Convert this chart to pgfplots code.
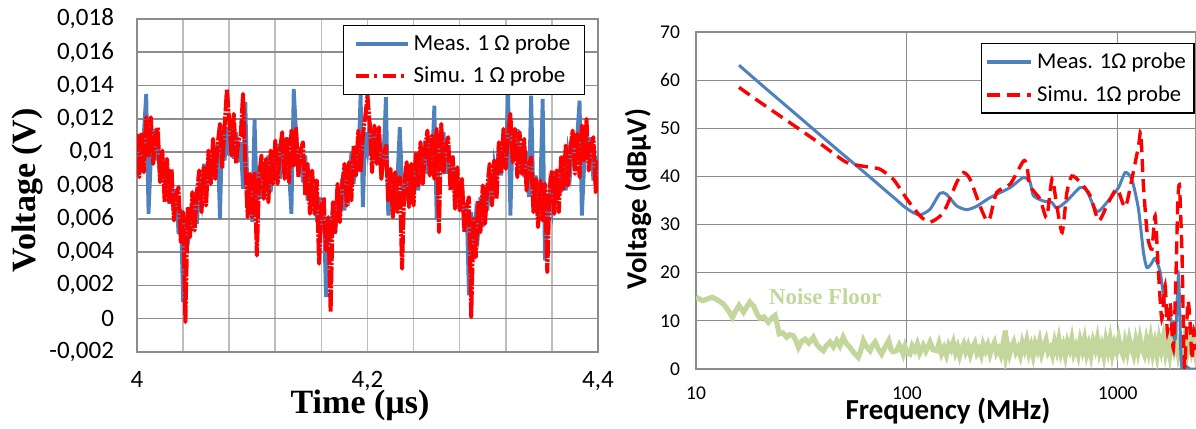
\documentclass[border=0pt]{standalone}
\usepackage{pgfplots}
\pgfplotsset{compat=1.18}
\usepackage{pgfplotstable}
\usepackage{fontspec}
\setmainfont{Carlito}
\newfontfamily\tnr{Liberation Serif}
\definecolor{exblue}{HTML}{4F81BD}
\definecolor{exred}{HTML}{FF0000}
\definecolor{nfgreen}{HTML}{C3D69B}
\definecolor{gridA}{HTML}{8C8C8C}
\definecolor{gridB}{HTML}{BDBDBD}

\pgfplotstableread{
t meas simu
4.000 0.0087 0.0111
4.002 0.0109 0.0085
4.004 0.0090 0.0112
4.006 0.0112 0.0088
4.008 0.0135 0.0121
4.010 0.0063 0.0098
4.012 0.0096 0.0121
4.014 0.0114 0.0093
4.016 0.0095 0.0110
4.018 0.0110 0.0115
4.020 0.0083 0.0082
4.022 0.0098 0.0101
4.024 0.0081 0.0070
4.026 0.0095 0.0096
4.028 0.0069 0.0070
4.030 0.0084 0.0090
4.032 0.0063 0.0059
4.034 0.0078 0.0074
4.036 0.0051 0.0079
4.038 0.0066 0.0046
4.040 0.0010 0.0064
4.042 0.0062 -0.0002
4.044 0.0044 0.0067
4.046 0.0067 0.0049
4.048 0.0053 0.0076
4.050 0.0076 0.0053
4.052 0.0057 0.0076
4.054 0.0080 0.0089
4.056 0.0071 0.0064
4.058 0.0093 0.0091
4.060 0.0075 0.0068
4.062 0.0097 0.0101
4.064 0.0082 0.0081
4.066 0.0104 0.0108
4.068 0.0084 0.0084
4.070 0.0105 0.0105
4.072 0.0060 0.0117
4.074 0.0116 0.0091
4.076 0.0095 0.0115
4.078 0.0115 0.0138
4.080 0.0098 0.0119
4.082 0.0118 0.0098
4.084 0.0096 0.0123
4.086 0.0112 0.0093
4.088 0.0094 0.0107
4.090 0.0106 0.0110
4.092 0.0078 0.0135
4.094 0.0130 0.0093
4.096 0.0070 0.0061
4.098 0.0085 0.0087
4.100 0.0058 0.0061
4.102 0.0120 0.0088
4.104 0.0070 0.0038
4.106 0.0091 0.0086
4.108 0.0072 0.0098
4.110 0.0094 0.0072
4.112 0.0078 0.0096
4.114 0.0098 0.0070
4.116 0.0076 0.0101
4.118 0.0097 0.0081
4.120 0.0086 0.0107
4.122 0.0105 0.0081
4.124 0.0084 0.0101
4.126 0.0105 0.0112
4.128 0.0089 0.0084
4.130 0.0109 0.0108
4.132 0.0087 0.0082
4.134 0.0063 0.0113
4.136 0.0138 0.0092
4.138 0.0112 0.0115
4.140 0.0087 0.0085
4.142 0.0103 0.0101
4.144 0.0082 0.0106
4.146 0.0098 0.0074
4.148 0.0071 0.0093
4.150 0.0087 0.0063
4.152 0.0070 0.0089
4.154 0.0084 0.0063
4.156 0.0058 0.0083
4.158 0.0073 0.0033
4.160 0.0052 0.0067
4.162 0.0068 0.0073
4.164 0.0013 0.0041
4.166 0.0058 0.0061
4.168 0.0046 0.0004
4.170 0.0069 0.0070
4.172 0.0051 0.0052
4.174 0.0075 0.0081
4.176 0.0062 0.0058
4.178 0.0084 0.0080
4.180 0.0065 0.0093
4.182 0.0088 0.0068
4.184 0.0078 0.0094
4.186 0.0100 0.0071
4.188 0.0081 0.0104
4.190 0.0104 0.0086
4.192 0.0090 0.0113
4.194 0.0135 0.0088
4.196 0.0067 0.0110
4.198 0.0112 0.0121
4.200 0.0102 0.0134
4.202 0.0118 0.0116
4.204 0.0095 0.0088
4.206 0.0112 0.0116
4.208 0.0094 0.0093
4.210 0.0111 0.0115
4.212 0.0084 0.0084
4.214 0.0099 0.0099
4.216 0.0133 0.0104
4.218 0.0062 0.0071
4.220 0.0070 0.0090
4.222 0.0087 0.0061
4.224 0.0067 0.0088
4.226 0.0084 0.0064
4.228 0.0115 0.0085
4.230 0.0080 0.0030
4.232 0.0069 0.0082
4.234 0.0090 0.0094
4.236 0.0070 0.0067
4.238 0.0092 0.0093
4.240 0.0077 0.0068
4.242 0.0098 0.0100
4.244 0.0077 0.0080
4.246 0.0098 0.0106
4.248 0.0087 0.0081
4.250 0.0107 0.0102
4.252 0.0087 0.0113
4.254 0.0108 0.0086
4.256 0.0092 0.0110
4.258 0.0128 0.0084
4.260 0.0060 0.0114
4.262 0.0108 0.0052
4.264 0.0096 0.0117
4.266 0.0112 0.0088
4.268 0.0087 0.0104
4.270 0.0102 0.0109
4.272 0.0082 0.0077
4.274 0.0098 0.0097
4.276 0.0071 0.0066
4.278 0.0085 0.0091
4.280 0.0068 0.0065
4.282 0.0081 0.0084
4.284 0.0054 0.0052
4.286 0.0069 0.0067
4.288 0.0014 0.0073
4.290 0.0064 0.0001
4.292 0.0038 0.0060
4.294 0.0061 0.0037
4.296 0.0052 0.0071
4.298 0.0073 0.0052
4.300 0.0055 0.0080
4.302 0.0078 0.0057
4.304 0.0065 0.0080
4.306 0.0088 0.0093
4.308 0.0069 0.0068
4.310 0.0092 0.0095
4.312 0.0083 0.0072
4.314 0.0105 0.0106
4.316 0.0086 0.0087
4.318 0.0108 0.0114
4.320 0.0094 0.0090
4.322 0.0135 0.0111
4.324 0.0062 0.0123
4.326 0.0114 0.0094
4.328 0.0098 0.0114
4.330 0.0114 0.0085
4.332 0.0089 0.0112
4.334 0.0105 0.0087
4.336 0.0085 0.0108
4.338 0.0100 0.0077
4.340 0.0073 0.0092
4.342 0.0134 0.0097
4.344 0.0071 0.0064
4.346 0.0086 0.0084
4.348 0.0062 0.0055
4.350 0.0079 0.0083
4.352 0.0132 0.0059
4.354 0.0035 0.0081
4.356 0.0055 0.0028
4.358 0.0077 0.0077
4.360 0.0067 0.0089
4.362 0.0088 0.0063
4.364 0.0069 0.0089
4.366 0.0090 0.0064
4.368 0.0076 0.0097
4.370 0.0098 0.0078
4.372 0.0077 0.0104
4.374 0.0099 0.0080
4.376 0.0089 0.0102
4.378 0.0109 0.0113
4.380 0.0090 0.0087
4.382 0.0110 0.0111
4.384 0.0131 0.0085
4.386 0.0062 0.0116
4.388 0.0092 0.0095
4.390 0.0112 0.0120
4.392 0.0095 0.0089
4.394 0.0109 0.0104
4.396 0.0083 0.0109
4.398 0.0098 0.0076
4.400 0.0077 0.0095
}\timedata

\pgfplotstableread{
f db
16 63.1
20 59.4
30 52.8
40 48.1
50 44.5
60 41.6
70 39.1
80 36.9
90 35.0
96 33.9
105 32.7
115.5 32.0
128.8 33.2
143.6 36.5
154 36.3
172 33.9
192 33.1
214 33.8
248 35.6
309 37.7
357 39.8
384 38.8
398 36.0
444 34.9
487 34.6
514 33.4
573 34.9
663 37.7
714 37.0
796 32.7
888 34.6
1008 37.7
1084 40.8
1166 39.4
1254 33.2
1324 24.2
1374 21.1
1440 21.8
1504 23.0
1589 20.1
1678 13.2
1771 11.1
1872 6.2
1941 19.4
1991 3.5
2020 0
2100 0.6
2200 0
2350 0
}\measdata

\pgfplotstableread{
f db
16 58.5
20 55.5
30 50.2
40 46.4
51.9 42.9
66.8 41.9
74.6 41.5
86.3 39.4
100 35.3
115.5 31.8
128.8 30.5
149 32.5
172.5 38.8
185.5 40.8
199.5 39.4
222 33.9
239 30.8
248 31.5
267 36.7
309 38.4
357 43.2
371 42.2
384 38.0
428 35.3
460 31.5
488 39.5
514 33.9
545 28.4
574 36.7
606 40.1
663 38.8
740 36.0
811 30.8
888 33.9
990 37.4
1084 33.6
1166 39.4
1254 46.3
1286 49.1
1324 38.0
1383 27.7
1452 24.9
1504 31.8
1560 20.1
1617 10.4
1678 17.3
1720 7.6
1771 13.9
1836 4.2
1890 20.1
1926 34.6
1962 38.0
2016 24.2
2053 6.2
2080 0.5
2150 14
2200 10
2250 2
2300 8
2350 4
}\simudata

\pgfplotstableread{
f db
10 14.9
10.8 14.2
11.9 14.9
12.7 14.3
13.5 13.5
14.2 12.2
14.9 10.7
15.4 12.0
16.0 13.2
16.8 11.8
17.4 12.9
18.0 13.9
18.8 13.0
19.4 11.6
20.1 10.5
21.0 10.8
22.0 9.7
22.9 10.6
23.7 11.1
24.2 9.5
24.8 7.3
25.8 7.5
26.9 6.6
27.8 7.1
28.9 6.9
29.8 5.9
30.6 4.5
31.6 5.7
32.9 6.2
34.3 5.4
36.0 6.6
37.3 5.2
38.6 4.4
40.2 3.8
41.6 4.9
43.2 5.6
44.8 4.6
46.5 5.9
48.1 4.8
49.9 6.6
51.6 5.3
53.7 4.5
56.0 3.4
58.8 2.4
60.5 3.9
62.2 5.9
64.5 4.6
66.9 3.8
68.7 4.9
70.7 5.6
73.3 4.1
75.9 3.1
78.7 4.5
82 5.9
84 4.1
86 3.6
89.3 3.8
92 5.0
94 4.2
96 3.1
98 4.6
100 3.4
103.4 3.1
106 4.8
109 3.9
112 5.2
115 3.3
119.6 4.9
123 3.7
128.8 5.6
133 4.0
138.5 3.8
142 5.3
146 3.2
150 4.4
154 2.9
158 5.0
162 4.1
166 5.5
170 3.4
174 4.6
178 2.8
182 4.3
186 5.2
190 3.6
195 4.9
200 3.0
205 4.5
210 5.4
215 3.3
220 4.1
225 2.9
230 5.1
236 3.8
242 5.0
248 3.1
254 4.6
260 5.5
266 3.4
272 4.2
279 2.9
286 5.3
290 3.9
293 8.0
296 3.6
300 5.2
307 3.1
314 4.7
321 5.6
329 3.5
337 4.4
345 2.9
353 5.4
361 4.0
370 5.9
379 3.3
388 4.8
397 2.8
406 5.2
416 3.9
426 5.8
436 3.2
446 4.6
457 6.0
468 3.5
479 4.3
490 2.9
502 5.6
514 3.8
526 6.1
538 3.4
551 4.9
564 2.8
577 5.5
591 4.1
605 6.2
619 3.3
634 4.7
649 3.0
664 5.8
680 3.9
696 6.1
712 3.2
729 5.0
746 2.9
764 5.7
782 4.2
800 6.3
819 3.4
838 4.9
858 2.8
878 5.9
899 3.8
920 6.2
942 3.1
964 5.2
987 3.7
1010 6.3
1034 4.0
1058 2.9
1083 5.6
1109 3.5
1135 6.2
1162 4.3
1189 2.9
1217 5.8
1246 3.6
1275 6.3
1305 4.1
1336 3.0
1367 5.9
1399 3.7
1432 6.4
1466 3.3
1500 5.4
1535 2.9
1571 6.2
1608 4.0
1646 6.5
1685 3.4
1725 5.7
1765 3.0
1807 6.3
1849 4.2
1893 6.6
1937 3.3
1983 5.8
2030 3.6
2078 6.4
2127 3.2
2177 5.9
2228 3.9
2280 6.3
2333 3.5
2350 5.0
}\noisedata

\begin{document}
\begin{tikzpicture}
\path[use as bounding box] (0,0) rectangle (598bp,214.5bp);
% ---------------- left: time domain ----------------
\begin{axis}[
  at={(68.5bp,38.5bp)}, anchor=south west, scale only axis,
  width=230.5bp, height=166.5bp,
  xmin=4, xmax=4.4, ymin=-0.002, ymax=0.018,
  xtick={4,4.2,4.4}, xticklabels={4,{4,2},{4,4}},
  minor xtick={4.04,4.08,4.12,4.16,4.24,4.28,4.32,4.36},
  ytick={-0.002,0,0.002,0.004,0.006,0.008,0.01,0.012,0.014,0.016,0.018},
  yticklabels={{-0,002},0,{0,002},{0,004},{0,006},{0,008},{0,01},{0,012},{0,014},{0,016},{0,018}},
  scaled x ticks=false, scaled y ticks=false,
  xmajorgrids, xminorgrids, ymajorgrids,
  major x grid style={draw=gridB, line width=0.8bp},
  minor x grid style={draw=gridB, line width=0.8bp},
  major y grid style={draw=gridA, line width=0.8bp},
  major tick length=0pt, minor tick length=0pt,
  axis line style={draw=gridA, line width=0.8bp},
  tick label style={font=\fontsize{12.5bp}{14bp}\selectfont},
  yticklabel style={xshift=-8bp},
  xticklabel style={yshift=-6bp},
  xlabel={\tnr\bfseries Time (µs)},
  ylabel={\tnr\bfseries Voltage (V)},
  xlabel style={at={(axis description cs:0.484,-0.159)}, anchor=center, font=\fontsize{17bp}{19bp}\selectfont},
  ylabel style={at={(axis description cs:-0.2386,0.486)}, anchor=center, font=\fontsize{17bp}{19bp}\selectfont},
  legend style={at={(axis description cs:0.447,0.982)}, anchor=north west,
    draw=black, line width=0.6bp, fill=white,
    font=\fontsize{11.5bp}{13bp}\selectfont,
    inner xsep=5bp, inner ysep=2.5bp, row sep=2.5bp},
  legend cell align=left,
  legend image code/.code={\draw[#1] (0bp,0bp) -- (26bp,0bp);},
]
\addplot[forget plot, exblue, line width=1.9bp] table[x=t, y=meas] {\timedata};
\addplot[forget plot, exred, line width=2bp, line join=round, dash pattern=on 9bp off 0.7bp on 1.2bp off 0.7bp] table[x=t, y=simu] {\timedata};
\addlegendimage{exblue, line width=2bp}
\addlegendentry{Meas. 1 Ω probe}
\addlegendimage{exred, line width=1.6bp, dash pattern=on 6.5bp off 2.5bp on 1.5bp off 3bp}
\addlegendentry{Simu. 1 Ω probe}
\end{axis}

% ---------------- right: frequency domain ----------------
\begin{axis}[
  at={(348bp,30bp)}, anchor=south west, scale only axis,
  width=250bp, height=168.5bp,
  xmode=log, log basis x=10,
  xmin=10, xmax=2350, ymin=0, ymax=70,
  xtick={10,100,1000}, xticklabels={10,100,1000},
  ytick={0,10,20,30,40,50,60,70},
  xmajorgrids, xminorgrids, ymajorgrids,
  major x grid style={draw=gridA, line width=0.6bp},
  minor x grid style={draw=gridB, line width=0.5bp},
  major y grid style={draw=gridA, line width=0.6bp},
  major tick length=0pt, minor tick length=0pt,
  axis line style={draw=gridA, line width=0.7bp},
  /pgf/number format/assume math mode=true,
  tick label style={font=\fontsize{9.75bp}{11bp}\selectfont},
  yticklabel style={xshift=-4.5bp},
  xticklabel style={yshift=-5.5bp},
  xlabel={\bfseries Frequency (MHz)},
  ylabel={\bfseries Voltage (dBµV)},
  xlabel style={at={(axis description cs:0.504,-0.125)}, anchor=center, font=\fontsize{14.5bp}{16bp}\selectfont},
  ylabel style={at={(axis description cs:-0.116,0.504)}, anchor=center, font=\fontsize{14.5bp}{16bp}\selectfont},
  legend style={at={(axis description cs:0.57,0.967)}, anchor=north west,
    draw=black, line width=0.6bp, fill=white,
    font=\fontsize{11.3bp}{13bp}\selectfont,
    inner xsep=2bp, inner ysep=2.5bp, row sep=3bp},
  legend cell align=left,
  legend image code/.code={\draw[#1] (0bp,0bp) -- (22bp,0bp);},
]
\addplot[forget plot, nfgreen, line width=2.6bp] table[x=f, y=db] {\noisedata};
\addplot[forget plot, exblue, line width=1.5bp, smooth, tension=0.4] table[x=f, y=db] {\measdata};
\addplot[forget plot, exred, line width=1.7bp, dash pattern=on 6.5bp off 3.5bp, smooth, tension=0.4] table[x=f, y=db] {\simudata};
\addlegendimage{exblue, line width=1.7bp}
\addlegendentry{Meas. 1Ω probe}
\addlegendimage{exred, line width=1.8bp, dash pattern=on 6.5bp off 3.5bp}
\addlegendentry{Simu. 1Ω probe}
\node[font=\tnr\bfseries\fontsize{11.4bp}{13bp}\selectfont, text=nfgreen] at (axis cs:41,15) {Noise Floor};
\end{axis}
\end{tikzpicture}
\end{document}
